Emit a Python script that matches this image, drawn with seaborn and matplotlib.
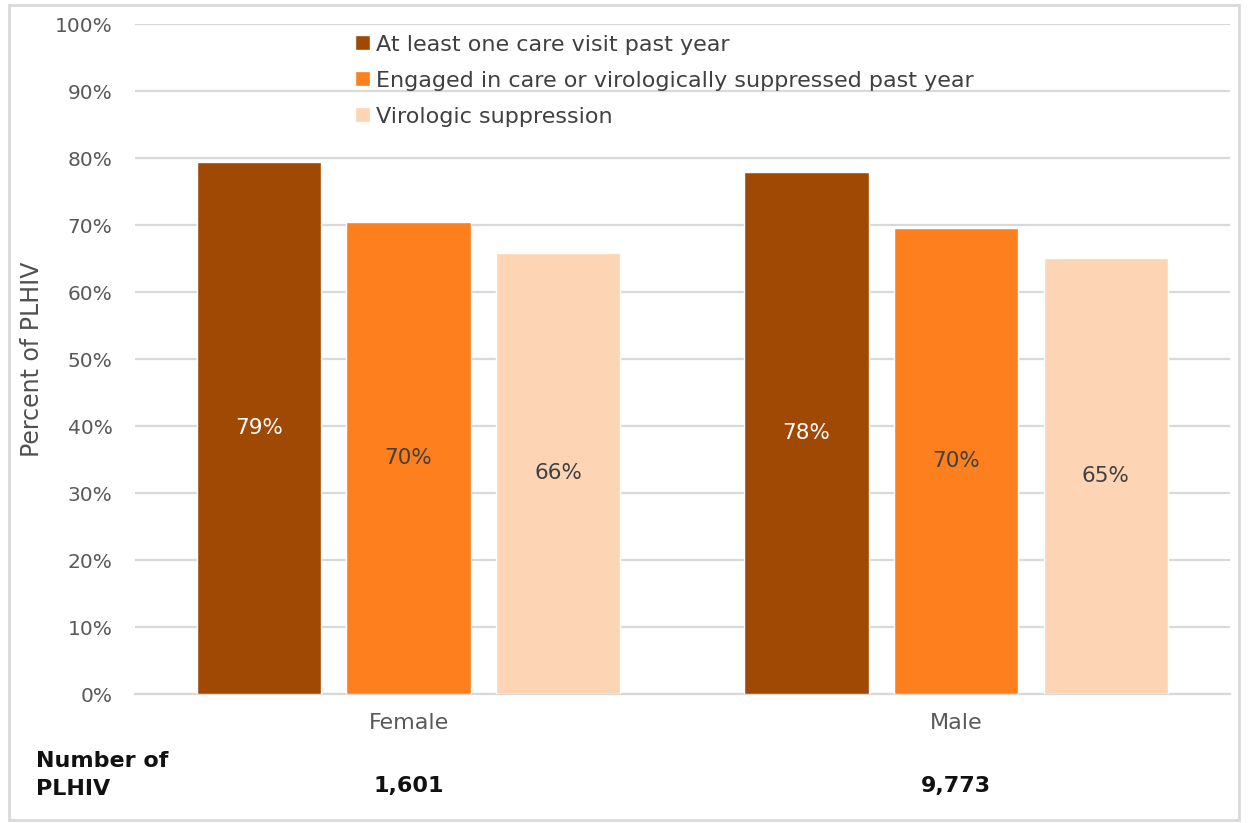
import matplotlib
matplotlib.use("Agg")
import matplotlib.pyplot as plt
import seaborn as sns
import pandas as pd
from matplotlib.patches import Rectangle

# Care continuum by sex
groups = ["Female", "Male"]
measures = [
    "At least one care visit past year",
    "Engaged in care or virologically suppressed past year",
    "Virologic suppression",
]
female_pct = [79.4, 70.4, 65.9]
male_pct = [77.9, 69.6, 65.1]
plhiv_counts = ["1,601", "9,773"]
y_ticks = [0, 10, 20, 30, 40, 50, 60, 70, 80, 90, 100]

palette = ["#A04905", "#FD7F1E", "#FDD5B4"]
label_colors = ["white", "#404040", "#404040"]

df = pd.DataFrame({
    "group": [g for g in groups for _ in measures],
    "measure": measures * len(groups),
    "pct": female_pct + male_pct,
})

sns.set_theme(style="white")
plt.rcParams["font.family"] = ["DejaVu Sans"]

fig = plt.figure(figsize=(12.48, 8.23), dpi=100)
ax = fig.add_axes([0.108, 0.1567, 0.8776, 0.8141])

sns.barplot(data=df, x="group", y="pct", hue="measure", hue_order=measures,
            order=groups, palette=palette, width=0.82, gap=0.17,
            saturation=1, ax=ax, zorder=3)

for cont, col in zip(ax.containers, label_colors):
    ax.bar_label(cont, labels=[f"{v:.0f}%" for v in cont.datavalues],
                 label_type="center", color=col, fontsize=15.5)

ax.set_ylim(0, 100)
ax.set_xlim(-0.5, 1.5)
ax.set_yticks(y_ticks)
ax.set_yticklabels([f"{t}%" for t in y_ticks], fontsize=14.5, color="#595959")
ax.yaxis.grid(True, color="#D9D9D9", linewidth=1.6, zorder=0)
ax.set_axisbelow(True)
for side in ["left", "right", "top"]:
    ax.spines[side].set_visible(False)
ax.spines["bottom"].set_color("#D9D9D9")
ax.spines["bottom"].set_linewidth(1.6)
ax.tick_params(axis="both", length=0)
ax.tick_params(axis="y", pad=16)
ax.tick_params(axis="x", pad=14, labelsize=16, labelcolor="#595959")
ax.set_xlabel("")
ax.set_ylabel("Percent of PLHIV", fontsize=17, color="#505050", labelpad=8)

leg = ax.legend(loc="upper left", bbox_to_anchor=(0.183, 1.014), frameon=False,
                fontsize=16, handlelength=0.65, handleheight=0.65,
                handletextpad=0.3, labelspacing=0.72, labelcolor="#404040")

# Sample size row beneath the categories
for i, n in enumerate(plhiv_counts):
    ax.text(i, -0.137, n, transform=ax.get_xaxis_transform(), ha="center",
            va="center", fontsize=16, fontweight="bold", color="#111111")
fig.text(0.029, 0.058, "Number of\nPLHIV", ha="left", va="center", fontsize=16,
         fontweight="bold", color="#111111", linespacing=1.5)

fig.add_artist(Rectangle((0.007, 0.004), 0.986, 0.99, transform=fig.transFigure,
                         fill=False, edgecolor="#D9D9D9", linewidth=2))

fig.savefig("out.png", dpi=100)
